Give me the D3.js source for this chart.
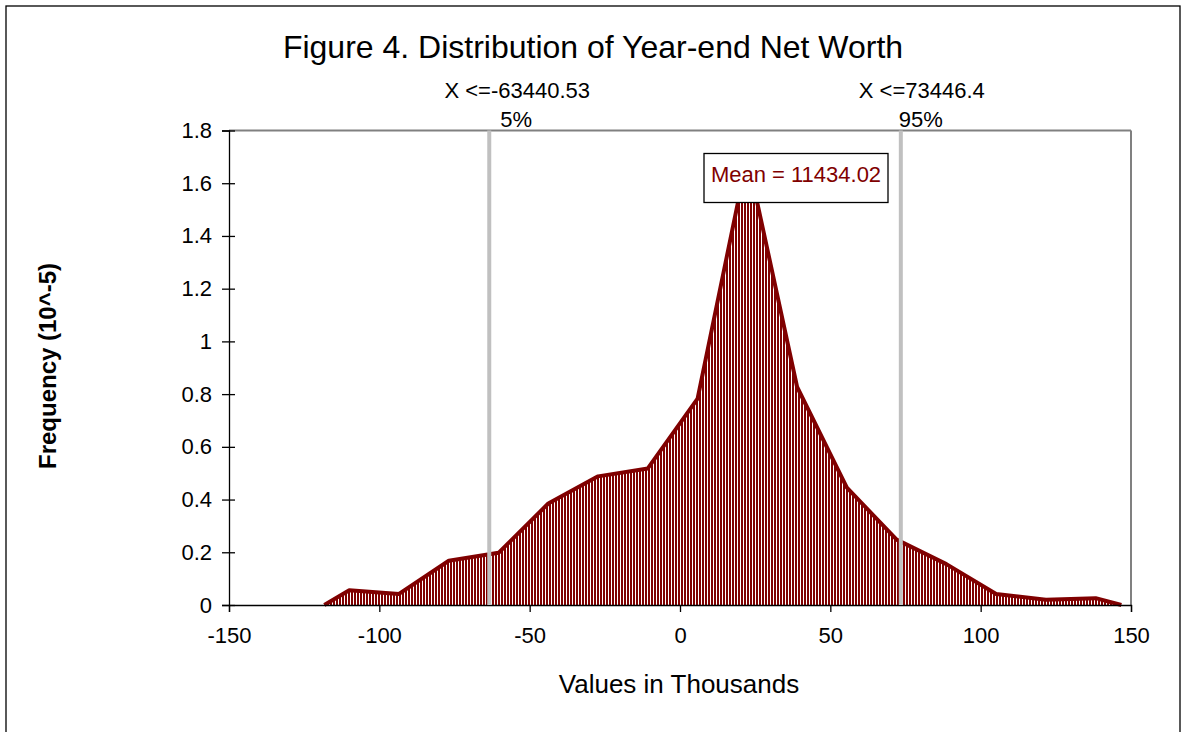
<!DOCTYPE html>
<html>
<head>
<meta charset="utf-8">
<script src="https://cdn.jsdelivr.net/npm/d3@7/dist/d3.min.js"></script>
<style>
  html, body { margin: 0; padding: 0; background: #fff; }
  svg { display: block; font-family: "Liberation Sans", Arial, sans-serif; }
</style>
</head>
<body>
<svg id="chart" width="1183" height="732"></svg>
<script>
// ---- Data (values in thousands; frequency in 10^-5) ----
const binCenters = [-110.0, -93.45, -76.9, -60.35, -43.8, -27.25, -10.7, 5.85, 22.4, 38.95, 55.5, 72.05, 88.6, 105.15, 121.7, 138.25];
const frequencies = [0.056, 0.042, 0.168, 0.198, 0.385, 0.488, 0.518, 0.783, 1.70, 0.827, 0.445, 0.248, 0.155, 0.042, 0.02, 0.026];
const polygonEnds = [-118.3, 146.8];
const xTicks = [-150, -100, -50, 0, 50, 100, 150];
const xTickLabels = ["-150", "-100", "-50", "0", "50", "100", "150"];
const yTicks = [0, 0.2, 0.4, 0.6, 0.8, 1, 1.2, 1.4, 1.6, 1.8];
const yTickLabels = ["0", "0.2", "0.4", "0.6", "0.8", "1", "1.2", "1.4", "1.6", "1.8"];
const percentiles = [
  { value: -63.44053, label: "X <=-63440.53", pct: "5%" },
  { value: 73.4464, label: "X <=73446.4", pct: "95%" }
];
const meanLabel = "Mean = 11434.02";
const titleText = "Figure 4. Distribution of Year-end Net Worth";
const xTitle = "Values in Thousands";
const yTitle = "Frequency (10^-5)";

// ---- Layout ----
const svg = d3.select("#chart");
const red = "#800000";
const x = d3.scaleLinear().domain([-150, 150]).range([229, 1131]);
const y = d3.scaleLinear().domain([0, 1.8]).range([605, 130.5]);

// outer frame
svg.append("rect").attr("x", 6).attr("y", 6).attr("width", 1174).attr("height", 740)
  .attr("fill", "#fff").attr("stroke", "#000").attr("stroke-width", 1.3);

// stripe pattern
const defs = svg.append("defs");
const pat = defs.append("pattern").attr("id", "stripes")
  .attr("patternUnits", "userSpaceOnUse").attr("width", 3).attr("height", 10);
pat.append("rect").attr("width", 3).attr("height", 10).attr("fill", "#fff");
pat.append("rect").attr("width", 2).attr("height", 10).attr("fill", red);

// plot frame (top & right in gray)
svg.append("line").attr("x1", x(-150)).attr("x2", x(150)).attr("y1", y(1.8)).attr("y2", y(1.8))
  .attr("stroke", "#808080").attr("stroke-width", 2);
svg.append("line").attr("x1", x(150)).attr("x2", x(150)).attr("y1", y(1.8)).attr("y2", y(0))
  .attr("stroke", "#808080").attr("stroke-width", 2);

// distribution polygon
const pts = [[polygonEnds[0], 0]].concat(binCenters.map((c, i) => [c, frequencies[i]])).concat([[polygonEnds[1], 0]]);
const area = d3.area().x(d => x(d[0])).y0(y(0)).y1(d => y(d[1]));
const line = d3.line().x(d => x(d[0])).y(d => y(d[1]));
svg.append("path").datum(pts).attr("d", area).attr("fill", "url(#stripes)");
svg.append("path").datum(pts).attr("d", line).attr("fill", "none")
  .attr("stroke", red).attr("stroke-width", 4).attr("stroke-linejoin", "round");

// axes
const xAxis = svg.append("g").attr("transform", `translate(0,${y(0)})`)
  .call(d3.axisBottom(x).tickValues(xTicks).tickSize(7).tickPadding(8)
    .tickFormat((d, i) => xTickLabels[i]));
const yAxis = svg.append("g").attr("transform", `translate(${x(-150)},0)`)
  .call(d3.axisLeft(y).tickValues(yTicks).tickSize(7).tickPadding(10)
    .tickFormat((d, i) => yTickLabels[i]));
[xAxis, yAxis].forEach(g => {
  g.select(".domain").attr("stroke", "#000").attr("stroke-width", 1.3);
  g.selectAll(".tick line").attr("stroke", "#000").attr("stroke-width", 1.3);
  g.selectAll(".tick text").attr("fill", "#000").style("font-size", "22px")
    .style("font-family", "'Liberation Sans', Arial, sans-serif");
});
yAxis.selectAll(".tick").append("line").attr("x1", 0).attr("x2", 6).attr("stroke", "#000").attr("stroke-width", 1.3);
xAxis.selectAll(".tick text").attr("dy", "1em").attr("y", 16);

// percentile lines + labels
const labelOffsets = [28, 21];
percentiles.forEach((p, i) => {
  svg.append("line").attr("x1", x(p.value)).attr("x2", x(p.value))
    .attr("y1", y(1.8)).attr("y2", y(0))
    .attr("stroke", "#c0c0c0").attr("stroke-width", 4);
  svg.append("text").attr("x", x(p.value) + labelOffsets[i]).attr("y", 98)
    .attr("text-anchor", "middle").style("font-size", "22px").text(p.label);
  svg.append("text").attr("x", x(p.value) + labelOffsets[i] - 1).attr("y", 127)
    .attr("text-anchor", "middle").style("font-size", "22px").text(p.pct);
});

// mean label box
svg.append("rect").attr("x", 704).attr("y", 153.5).attr("width", 184).attr("height", 49)
  .attr("fill", "#fff").attr("stroke", "#000").attr("stroke-width", 1.3);
svg.append("text").attr("x", 796).attr("y", 182).attr("text-anchor", "middle")
  .attr("fill", red).style("font-size", "22px").text(meanLabel);

// titles
svg.append("text").attr("x", 593).attr("y", 58).attr("text-anchor", "middle")
  .style("font-size", "32px").text(titleText);
svg.append("text").attr("x", 679).attr("y", 693).attr("text-anchor", "middle")
  .style("font-size", "26px").text(xTitle);
svg.append("text").attr("transform", "translate(56,366) rotate(-90)").attr("text-anchor", "middle")
  .style("font-size", "24px").style("font-weight", "bold").text(yTitle);
</script>
</body>
</html>
